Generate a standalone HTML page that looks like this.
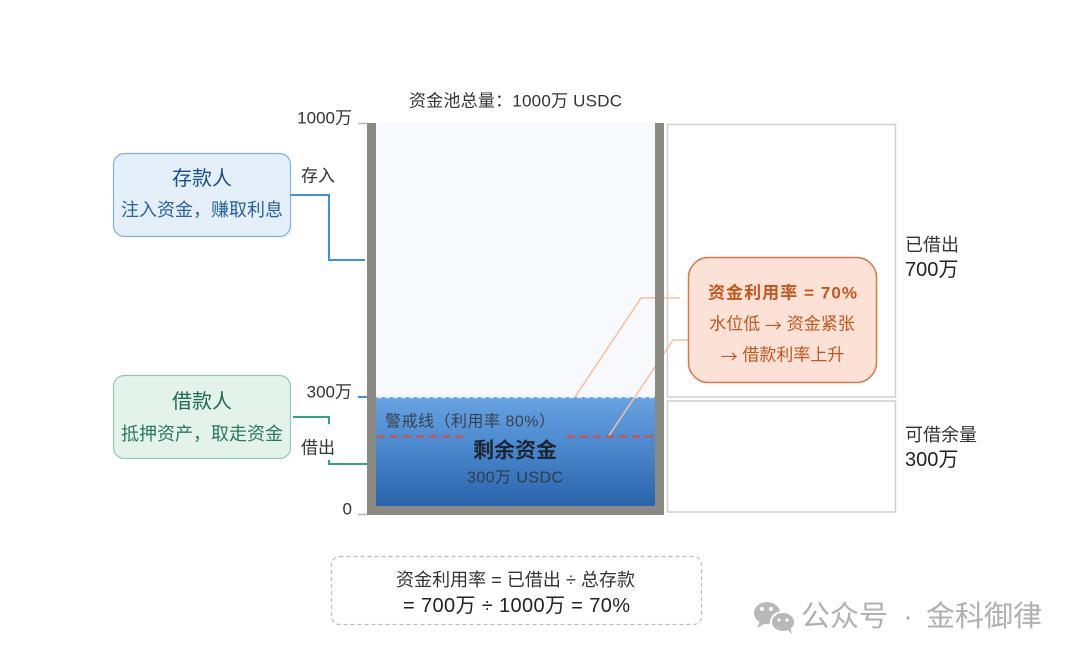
<!DOCTYPE html>
<html><head><meta charset="utf-8"><style>
html,body{margin:0;padding:0;background:#fff;}
svg{display:block;}
text{font-family:"Liberation Sans","Noto Sans CJK SC",sans-serif;}
.cjk{font-family:"Noto Sans CJK SC","WenQuanYi Zen Hei",sans-serif;}
</style></head><body>
<svg width="1080" height="662" viewBox="0 0 1080 662" xmlns="http://www.w3.org/2000/svg">
<defs>
<linearGradient id="water" x1="0" y1="0" x2="0" y2="1">
<stop offset="0" stop-color="#68a3e2"/>
<stop offset="0.5" stop-color="#4885cb"/>
<stop offset="1" stop-color="#2a63ab"/>
</linearGradient>
</defs>
<rect width="1080" height="662" fill="#fff"/>

<!-- title -->
<text x="515.5" y="101" font-size="17" fill="#333" text-anchor="middle" dominant-baseline="central" textLength="213" lengthAdjust="spacing">资金池总量：1000万 USDC</text>

<!-- axis labels -->
<text x="352" y="118" font-size="17" fill="#333" text-anchor="end" dominant-baseline="central">1000万</text>
<text x="352" y="392" font-size="17" fill="#333" text-anchor="end" dominant-baseline="central">300万</text>
<text x="352" y="509" font-size="17" fill="#333" text-anchor="end" dominant-baseline="central">0</text>
<line x1="358" y1="123.5" x2="367" y2="123.5" stroke="#b5b5b5" stroke-width="1.5"/>
<line x1="358" y1="397" x2="367" y2="397" stroke="#4a90d9" stroke-width="2"/>
<line x1="358" y1="514.5" x2="367" y2="514.5" stroke="#b5b5b5" stroke-width="1.5"/>

<!-- right bracket boxes -->
<rect x="667.5" y="124.5" width="228" height="272.5" fill="#fff" stroke="#cfcfcf" stroke-width="1.5"/>
<rect x="667.5" y="401" width="228" height="111" fill="#fff" stroke="#cfcfcf" stroke-width="1.5"/>
<text x="905" y="245" font-size="18" fill="#333" dominant-baseline="central">已借出</text>
<text x="905" y="270" font-size="20" fill="#222" dominant-baseline="central">700万</text>
<text x="905" y="435" font-size="18" fill="#333" dominant-baseline="central">可借余量</text>
<text x="905" y="460" font-size="20" fill="#222" dominant-baseline="central">300万</text>

<!-- tank interior -->
<rect x="376" y="123" width="279" height="383" fill="#f7f9fd"/>
<rect x="376" y="397" width="279" height="109" fill="url(#water)"/>
<line x1="377" y1="397.5" x2="655" y2="397.5" stroke="#d6e6f8" stroke-width="1.5" stroke-dasharray="5 3"/>

<!-- leader lines -->
<polyline points="680,298 641,298 575,397" fill="none" stroke="#f4c0a2" stroke-width="1.5"/>
<polyline points="710,340 673,340 608,437" fill="none" stroke="#f4c0a2" stroke-width="1.5"/>

<!-- red dashed warning line -->
<line x1="377" y1="436.5" x2="467" y2="436.5" stroke="#e2473f" stroke-width="2" stroke-dasharray="8 5"/>
<line x1="567" y1="436.5" x2="655" y2="436.5" stroke="#e2473f" stroke-width="2" stroke-dasharray="8 5"/>

<!-- water texts -->
<text x="385" y="422" font-size="16" fill="#37424f" dominant-baseline="central" textLength="170" lengthAdjust="spacing">警戒线（利用率 80%）</text>
<text x="515" y="451" font-size="21" font-weight="600" fill="#1b2432" text-anchor="middle" dominant-baseline="central">剩余资金</text>
<text x="515" y="478" font-size="16" fill="#2e3a4a" text-anchor="middle" dominant-baseline="central" textLength="96" lengthAdjust="spacing">300万 USDC</text>

<!-- walls -->
<rect x="367" y="123" width="9" height="392" fill="#8a8a83"/>
<rect x="655" y="123" width="9" height="392" fill="#8a8a83"/>
<rect x="367" y="506" width="297" height="9" fill="#8a8a83"/>

<!-- callout -->
<rect x="688.5" y="257.5" width="188" height="125" rx="20" fill="#fce2d6" stroke="#d8773f" stroke-width="1.5"/>
<text x="782.5" y="293" font-size="17" font-weight="bold" fill="#c4561e" text-anchor="middle" dominant-baseline="central" textLength="149" lengthAdjust="spacing">资金利用率 = 70%</text>
<text x="782" y="324" font-size="17" fill="#c4561e" text-anchor="middle" dominant-baseline="central">水位低 <tspan class="cjk">→</tspan> 资金紧张</text>
<text x="782.5" y="355" font-size="17" fill="#c4561e" text-anchor="middle" dominant-baseline="central"><tspan class="cjk">→</tspan> 借款利率上升</text>

<!-- depositor -->
<rect x="113.5" y="153.5" width="177" height="83" rx="11" fill="#e4effa" stroke="#7fb0e3" stroke-width="1.2"/>
<text x="202" y="179" font-size="20" fill="#1d4f8a" text-anchor="middle" dominant-baseline="central">存款人</text>
<text x="202" y="210" font-size="18" fill="#2763a6" text-anchor="middle" dominant-baseline="central">注入资金，赚取利息</text>
<polyline points="291,195 329,195 329,260 365,260" fill="none" stroke="#3d8fe0" stroke-width="2"/>
<text x="318" y="176" font-size="17" fill="#333" text-anchor="middle" dominant-baseline="central">存入</text>

<!-- borrower -->
<rect x="113.5" y="375.5" width="177" height="83" rx="11" fill="#e3f3ec" stroke="#93c9b0" stroke-width="1.2"/>
<text x="202" y="402" font-size="20" fill="#1c6a4b" text-anchor="middle" dominant-baseline="central">借款人</text>
<text x="202" y="434" font-size="18" fill="#2a7a59" text-anchor="middle" dominant-baseline="central">抵押资产，取走资金</text>
<polyline points="293,417 329,417 329,464 367,464" fill="none" stroke="#2fa57a" stroke-width="2"/>
<rect x="300" y="424" width="38" height="36" fill="#fff"/>
<text x="318" y="448" font-size="17" fill="#333" text-anchor="middle" dominant-baseline="central">借出</text>

<!-- formula box -->
<rect x="331.5" y="556.5" width="370" height="68" rx="8" fill="#fff" stroke="#bdbdbd" stroke-width="1.2" stroke-dasharray="4 3"/>
<text x="515.5" y="580" font-size="18" fill="#333" text-anchor="middle" dominant-baseline="central" textLength="239" lengthAdjust="spacing">资金利用率 = 已借出 ÷ 总存款</text>
<text x="516.5" y="606" font-size="20" fill="#222" text-anchor="middle" dominant-baseline="central" textLength="227" lengthAdjust="spacing">= 700万 ÷ 1000万 = 70%</text>

<!-- watermark -->
<g fill="#b8b8b8">
<ellipse cx="767" cy="613" rx="13" ry="11"/>
<path d="M760 621 L757 628 L766 623 Z"/>
<ellipse cx="783" cy="622" rx="12" ry="10" stroke="#fff" stroke-width="2"/>
<path d="M788 630 L792 634 L790 627 Z"/>
</g>
<g fill="#fff">
<circle cx="762" cy="609" r="2"/>
<circle cx="771" cy="609" r="2"/>
<circle cx="779" cy="620" r="1.6"/>
<circle cx="787" cy="620" r="1.6"/>
</g>
<text x="801" y="617" font-size="29" fill="#b0b0b0" dominant-baseline="central">公众号</text>
<text x="908" y="617" font-size="29" fill="#b0b0b0" text-anchor="middle" dominant-baseline="central">·</text>
<text x="926" y="617" font-size="29" fill="#b0b0b0" dominant-baseline="central">金科御律</text>
</svg>
</body></html>
